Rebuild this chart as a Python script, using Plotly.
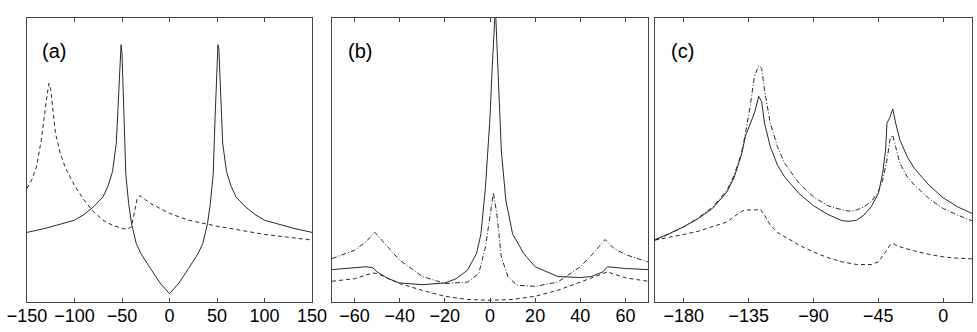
import plotly.graph_objects as go
from plotly.subplots import make_subplots

# ---------------- Panel (a) ----------------
a_x_half = [-150, -130, -100, -90, -80, -70, -65, -60, -56, -54, -52, -51, -50, -48, -46, -43, -40, -35, -30, -20, -10, 0]
a_solid_half = [24.5, 26.0, 28.8, 30.8, 33.5, 37.0, 40.6, 45.9, 55.9, 71.0, 88.8, 90.6, 87.6, 65.0, 45.0, 34.7, 27.6, 20.6, 17.0, 11.8, 6.7, 2.9]
a_solid_x = a_x_half + [-v for v in reversed(a_x_half[:-1])]
a_solid_y = a_solid_half + list(reversed(a_solid_half[:-1]))

a_dash_x = [-150, -145, -140, -135, -130, -127, -125, -120, -115, -110, -100, -90, -80, -70, -60, -50, -45,
            -40, -37, -34, -31, -25, -20, 0, 20, 50, 100, 150]
a_dash_y = [40.0, 43.0, 47.6, 57.0, 70.0, 77.0, 74.7, 59.4, 52.4, 47.6, 41.0, 35.9, 31.8, 28.8, 27.0, 25.9, 25.5,
            26.5, 31.0, 36.5, 37.4, 35.9, 34.7, 31.2, 28.8, 26.7, 23.8, 21.8]

# ---------------- Panel (b) ----------------
b_solid_x = [-70, -60, -55, -52, -50, -45, -40, -30, -20, -15, -10, -6, -4, -2, 0, 1, 2, 2.4, 3, 4, 5, 7, 10, 15,
             20, 30, 40, 45, 50, 52, 60, 70]
b_solid_y = [11.4, 12.0, 12.4, 12.1, 10.6, 8.2, 6.7, 6.1, 6.7, 8.2, 11.2, 17.0, 24.0, 40.6, 65.0, 83.0, 100.0, 104.0,
             92.0, 71.0, 53.5, 35.9, 24.0, 17.0, 12.4, 9.0, 8.6, 9.0, 10.6, 12.4, 11.8, 11.4]

b_dashdot_x = [-70, -60, -55, -51, -48, -40, -30, -20, -10, -5, -2, 0, 1.5, 3, 5, 8, 12, 20, 30, 40, 45, 51, 55, 60, 70]
b_dashdot_y = [15.3, 18.2, 21.2, 24.5, 21.8, 14.7, 9.0, 6.5, 7.0, 10.0, 19.4, 31.2, 38.5, 31.2, 15.9, 8.8, 5.9, 5.5,
               7.0, 12.4, 16.5, 22.0, 18.8, 16.7, 14.1]

b_dash_x = [-70, -60, -52, -50, -40, -30, -20, -10, 0, 10, 20, 30, 40, 50, 52, 60, 70]
b_dash_y = [7.3, 8.2, 10.2, 10.0, 6.5, 4.1, 2.0, 0.9, 0.6, 0.9, 2.0, 4.1, 7.0, 10.2, 10.6, 8.5, 7.3]

# ---------------- Panel (c) ----------------
c_x = [-200, -190, -180, -170, -160, -150, -145, -140, -137, -134, -131, -128, -126, -124, -120, -115, -110, -100,
       -90, -80, -70, -65, -60, -55, -50, -45, -42, -40, -39, -37, -35, -33, -30, -25, -20, -10, 0, 10, 20]
c_solid_y = [22.0, 24.1, 26.5, 29.4, 33.0, 38.8, 44.0, 51.8, 58.8, 63.0, 66.5, 72.4, 70.6, 63.0, 54.7, 48.2, 44.0,
             38.2, 33.9, 30.8, 28.6, 28.4, 28.8, 30.6, 33.5, 38.2, 45.3, 53.5, 63.0, 65.0, 68.0, 63.0, 57.0, 51.2,
             47.0, 41.2, 36.7, 33.5, 31.2]
c_dashdot_y = [21.8, 24.0, 26.5, 29.6, 33.4, 39.4, 44.7, 52.4, 60.0, 68.8, 79.4, 83.2, 82.3, 74.7, 63.0, 54.7, 48.8,
               41.8, 37.0, 33.9, 32.4, 32.0, 32.4, 33.5, 35.3, 38.8, 42.9, 47.0, 50.0, 57.0, 58.8, 54.7, 48.8, 44.1,
               41.2, 36.5, 32.9, 30.6, 28.6]
c_dash_x = [-200, -190, -180, -170, -160, -150, -142, -138, -130, -127, -124, -120, -115, -110, -100, -90, -80, -70,
            -60, -50, -45, -40, -37, -35, -30, -20, -10, 0, 10, 20]
c_dash_y = [21.8, 22.7, 23.8, 24.9, 26.5, 28.2, 31.2, 32.4, 32.4, 32.7, 30.6, 27.1, 24.5, 22.9, 20.0, 17.6, 15.6,
            14.1, 13.2, 13.2, 14.1, 17.6, 20.0, 20.6, 19.4, 18.0, 16.8, 15.9, 15.4, 15.2]

a_ticks = [-150, -100, -50, 0, 50, 100, 150]
b_ticks = [-60, -40, -20, 0, 20, 40, 60]
c_ticks = [-180, -135, -90, -45, 0]
panel_labels = ["(a)", "(b)", "(c)"]

LC = "#2a2a2a"
DASH = "4px,3px"
DASHDOT = "5px,2px,1px,2px"
FONT = "Liberation Sans, Arial, sans-serif"

fig = make_subplots(rows=1, cols=3)

def add(x, y, col, dash):
    fig.add_trace(go.Scatter(x=x, y=y, mode="lines", line=dict(color=LC, width=1, dash=dash),
                             showlegend=False, hoverinfo="skip"), row=1, col=col)

add(a_solid_x, a_solid_y, 1, "solid")
add(a_dash_x, a_dash_y, 1, DASH)
add(b_solid_x, b_solid_y, 2, "solid")
add(b_dashdot_x, b_dashdot_y, 2, DASHDOT)
add(b_dash_x, b_dash_y, 2, DASH)
add(c_x, c_solid_y, 3, "solid")
add(c_x, c_dashdot_y, 3, DASHDOT)
add(c_dash_x, c_dash_y, 3, DASH)

FW, FH = 977, 332
px = [(27, 312), (332, 648), (655, 972)]
domains = [[l / FW, r / FW] for l, r in px]
ranges = [[-150, 150], [-70, 70], [-200, 20]]
ticks = [a_ticks, b_ticks, c_ticks]

for i in range(3):
    xa = "xaxis" if i == 0 else f"xaxis{i+1}"
    ya = "yaxis" if i == 0 else f"yaxis{i+1}"
    fig.layout[xa].update(domain=domains[i], range=ranges[i], tickvals=ticks[i], ticks="inside",
                          ticklen=4, tickcolor="#444", showline=True, linecolor="#444", linewidth=1,
                          mirror="ticks", showgrid=False, zeroline=False, tickangle=0, automargin=False,
                          ticklabelstandoff=-3,
                          tickfont=dict(family=FONT, size=18, color="black"))
    fig.layout[ya].update(domain=[0, 1], range=[0, 100], showticklabels=False, ticks="",
                          showline=True, linecolor="#444", linewidth=1, mirror=True,
                          showgrid=False, zeroline=False, automargin=False)
    fig.add_annotation(text=panel_labels[i], xref=("x domain" if i == 0 else f"x{i+1} domain"),
                       yref=("y domain" if i == 0 else f"y{i+1} domain"), x=0.045, y=0.885,
                       xanchor="left", yanchor="middle", showarrow=False,
                       font=dict(family=FONT, size=20, color="black"))

fig.update_layout(width=FW, height=FH, margin=dict(l=0, r=0, t=18, b=FH - 302),
                  paper_bgcolor="white", plot_bgcolor="white")

# remove the default 8px page margin so the figure sits at the window's top-left corner
fig.write_html("out.html", config={"displayModeBar": False},
               post_script="document.body.style.margin='0px';")
